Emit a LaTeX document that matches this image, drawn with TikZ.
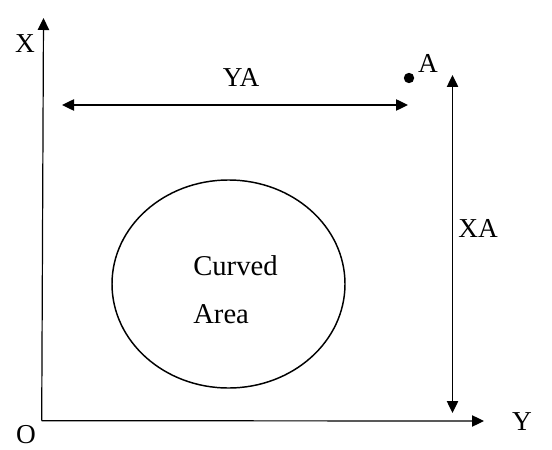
\documentclass[tikz,border=0pt]{standalone}
\usepackage{fontspec}
\setmainfont{Liberation Serif}
\usetikzlibrary{arrows.meta,shapes.geometric}
\begin{document}
\begin{tikzpicture}[x=0.75pt,y=-0.75pt,
  arr/.style={-{Triangle[length=9pt,width=8.5pt]}, line width=0.9pt},
  dbl/.style={{Triangle[length=9pt,width=8.5pt]}-{Triangle[length=9pt,width=8.5pt]}, line width=1pt},
  lbl/.style={font=\fontsize{20.5}{24}\selectfont, inner sep=0pt}]
\useasboundingbox (0,0) rectangle (552,449);
% axes
\coordinate (O) at (41.7,420.7);
\coordinate (Xend) at (43.5,18);
\coordinate (Yend) at (484,421);
\draw[arr] (O) -- (Xend);
\draw[arr] (O) -- (Yend);
\node[lbl] (xl) at (25,44) {X};
\node[lbl] (ol) at (26,435) {O};
\node[lbl] (yl) at (522,422) {Y};
% point A
\node[circle, fill, inner sep=0pt, minimum size=7.8pt] (A) at (409,78) {};
\node[lbl] (al) at (428,63) {A};
% YA dimension
\coordinate (ya1) at (62,105);
\coordinate (ya2) at (408,105);
\draw[dbl] (ya1) -- (ya2);
\node[lbl] (yal) at (241,77) {YA};
% XA dimension
\coordinate (xa1) at (452.5,75);
\coordinate (xa2) at (452.5,413);
\draw[dbl] (xa1) -- (xa2);
\node[lbl] (xal) at (478,228) {XA};
% curved area
\node[draw, ellipse, line width=1.1pt, minimum width=174.75pt, minimum height=156pt, inner sep=0pt] (E) at (228.5,284) {};
\node[lbl, anchor=base west, font=\fontsize{21.5}{24}\selectfont] (c1) at (193,275) {Curved};
\node[lbl, anchor=base west, font=\fontsize{21.5}{24}\selectfont] (c2) at (193,323) {Area};
\end{tikzpicture}
\end{document}
